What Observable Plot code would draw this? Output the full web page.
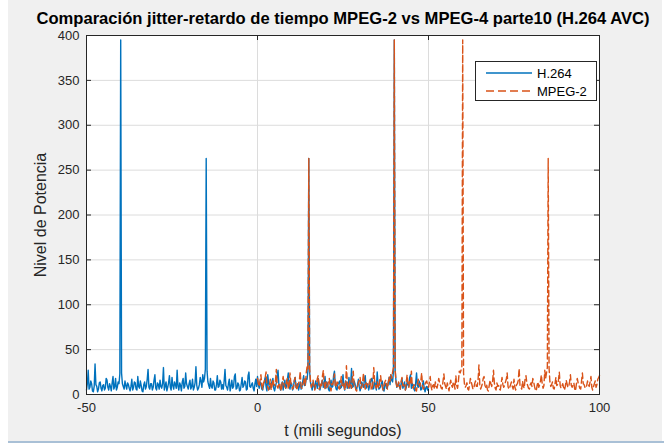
<!DOCTYPE html>
<html>
<head>
<meta charset="utf-8">
<script src="https://cdn.jsdelivr.net/npm/d3@7"></script>
<script src="https://cdn.jsdelivr.net/npm/@observablehq/plot@0.6"></script>
<style>
  html, body { margin: 0; padding: 0; background: #ffffff; }
  #wrap { position: relative; width: 664px; height: 445px; overflow: hidden; background: #ffffff; font-family: "Liberation Sans", Arial, sans-serif; }
  #fig { position: absolute; left: 8px; top: 0; width: 654px; height: 441px; background: #f0f0f0; }
  #edge { position: absolute; left: 8px; top: 441px; width: 656px; height: 2px; background: #a9c0d6; }
  #chart { position: absolute; left: 0; top: 0; }
  #legend { position: absolute; left: 475px; top: 61px; width: 120px; height: 38px; background: #fff; border: 1px solid #262626; font-size: 13px; color: #000; }
  #legend .row { position: absolute; left: 0; height: 16px; display: flex; align-items: center; }
  #legend svg { display: block; }
  #legend span { margin-left: 5px; }
</style>
</head>
<body>
<div id="wrap">
  <div id="fig"></div>
  <div id="edge"></div>
  <div id="chart"></div>
  <div id="legend"></div>
</div>
<script>
// ---- data ----
const titleText = "Comparación jitter-retardo de tiempo MPEG-2 vs MPEG-4 parte10 (H.264 AVC)";
const xLabel = "t (mili segundos)";
const yLabel = "Nivel de Potencia";
const seriesNames = ["H.264", "MPEG-2"];
const xTicks = [-50, 0, 50, 100];
const yTicks = [0, 50, 100, 150, 200, 250, 300, 350, 400];

// H.264: t from -50 to 50, step 0.25 ms
const h264Start = -50;
const h264Step = 0.25;
const h264Values = [
  5, 12, 27, 6, 8, 15, 12, 4, 3, 9, 34, 11, 9, 3, 6, 13, 14, 7, 4, 10,
  11, 5, 7, 18, 16, 8, 5, 12, 9, 4, 13, 20, 6, 9, 18, 5, 8, 14, 12, 23,
  395,
  24, 12, 9, 6, 15, 10, 6, 13, 11, 7, 4, 9, 17, 5, 8, 14, 13, 6, 5,
  20, 9, 7, 15, 10, 4, 3, 11, 14, 6, 9, 17, 28, 8, 6, 12, 12, 5, 8, 16,
  22, 7, 5, 13, 11, 6, 16, 9, 7, 12, 30, 5, 9, 14, 4, 8, 13, 21, 8, 5,
  19, 10, 6, 14, 11, 7, 27, 9, 5, 13, 10, 4, 14, 18, 7, 9, 24, 12, 9, 6,
  12, 16, 6, 9, 17, 5, 8, 13, 31, 10, 5, 7, 11, 19, 15, 8, 22, 14, 18, 28,
  263,
  26, 14, 10, 7, 18, 9, 7, 15, 13, 5, 5, 11, 21, 8, 9, 16, 14, 6, 11,
  6, 15, 28, 10, 8, 5, 12, 17, 4, 9, 16, 7, 9, 20, 23, 6, 7, 13, 11, 4,
  5, 12, 19, 8, 10, 15, 14, 5, 6, 21, 25, 9, 8, 11, 13, 7, 4, 12, 17, 9,
  20, 11, 7, 14, 12, 6, 5, 10, 15, 19, 9, 4, 22, 13, 6, 8, 11, 15, 18, 7,
  4, 9, 13, 20, 27, 11, 8, 5, 10, 14, 5, 12, 16, 7, 9, 17, 24, 10, 6, 13,
  12, 5, 7, 16, 19, 8, 10, 12, 5, 9, 14, 6, 8, 15, 21, 10, 11, 18, 17, 27,
  263,
  25, 13, 9, 5, 14, 10, 6, 15, 11, 7, 18, 12, 5, 9, 13, 16, 8, 12, 20,
  7, 14, 12, 6, 4, 10, 16, 8, 9, 21, 26, 11, 6, 5, 11, 13, 15, 7, 8, 12,
  22, 9, 5, 15, 13, 7, 10, 19, 7, 12, 29, 8, 9, 15, 12, 6, 6, 11, 17, 9,
  4, 8, 14, 10, 8, 16, 21, 7, 10, 12, 5, 9, 13, 17, 18, 6, 7, 14, 11, 5,
  25, 12, 6, 7, 9, 13, 15, 5, 4, 11, 12, 7, 8, 14, 19, 11, 22, 16, 14, 26,
  395,
  27, 15, 8, 10, 13, 9, 6, 12, 18, 7, 10, 14, 5, 8, 14, 11, 9, 19, 22,
  7, 12, 11, 6, 4, 13, 24, 10, 8, 15, 12, 5, 6, 11, 15, 7, 3, 8, 9, 5,
  9
];

// MPEG-2: t from 0 to 100, step 0.25 ms
const mpeg2Start = 0;
const mpeg2Step = 0.25;
const mpeg2Values = [
  18, 12, 9, 16, 22, 10, 6, 13, 14, 19, 25, 11, 8, 5, 11, 17, 5, 9, 17, 12,
  10, 15, 28, 9, 7, 12, 13, 6, 4, 14, 20, 11, 9, 7, 15, 18, 6, 10, 24, 13,
  11, 6, 8, 14, 19, 10, 5, 9, 12, 16, 26, 8, 7, 11, 14, 19, 10, 24, 31, 28,
  263,
  29, 14, 8, 12, 16, 9, 5, 10, 12, 18, 21, 6, 7, 13, 10, 21, 27, 11, 6,
  14, 8, 9, 15, 18, 7, 4, 12, 11, 16, 23, 9, 8, 14, 13, 7, 6, 12, 20, 10,
  10, 13, 5, 8, 32, 14, 9, 6, 15, 11, 7, 19, 26, 10, 11, 5, 4, 9, 13, 16,
  19, 7, 8, 15, 24, 10, 6, 13, 12, 8, 9, 14, 17, 6, 5, 12, 30, 15, 10, 7,
  14, 9, 7, 16, 21, 12, 8, 5, 11, 14, 16, 10, 6, 13, 20, 15, 22, 18, 25, 30,
  395,
  28, 13, 9, 7, 14, 11, 6, 15, 19, 10, 11, 8, 5, 14, 22, 12, 8, 16, 13,
  26, 9, 7, 11, 10, 5, 4, 12, 17, 11, 9, 15, 24, 10, 6, 8, 12, 14, 15, 9,
  8, 13, 20, 9, 5, 10, 11, 6, 14, 9, 7, 12, 18, 13, 10, 7, 6, 15, 23, 12,
  9, 6, 13, 8, 4, 11, 16, 10, 8, 14, 12, 6, 21, 10, 7, 15, 26, 24, 27, 29,
  395,
  24, 12, 8, 10, 13, 6, 5, 11, 18, 14, 10, 6, 7, 12, 15, 9, 9, 17, 33,
  11, 6, 9, 12, 18, 20, 10, 8, 11, 5, 4, 10, 16, 12, 9, 15, 27, 13, 7, 5,
  13, 9, 10, 6, 5, 12, 19, 11, 8, 10, 14, 17, 24, 9, 6, 8, 11, 14, 9, 6,
  17, 8, 5, 11, 12, 16, 29, 10, 8, 6, 15, 9, 7, 18, 21, 13, 10, 7, 6, 11,
  13, 9, 18, 14, 9, 5, 4, 10, 14, 8, 11, 15, 22, 12, 7, 10, 27, 18, 24, 30,
  263,
  30, 14, 9, 11, 14, 7, 6, 12, 19, 10, 11, 16, 25, 10, 7, 9, 12, 8, 5,
  9, 16, 12, 8, 9, 14, 22, 10, 8, 11, 13, 6, 4, 12, 18, 13, 10, 7, 6, 15,
  24, 12, 11, 8, 7, 10, 15, 11, 9, 14, 20, 8, 5, 9, 12, 15, 8, 11, 17, 19,
  21
];

const h264 = h264Values.map((v, i) => ({t: h264Start + i * h264Step, v}));
const mpeg2 = mpeg2Values.map((v, i) => ({t: mpeg2Start + i * mpeg2Step, v}));

const blue = "#0072BD";
const orange = "#D95319";
const axisColor = "#262626";
const font = "'Liberation Sans', Arial, Helvetica, sans-serif";

const W = 664, H = 445;
const mL = 86, mR = 65, mT = 35, mB = 51;
const innerW = W - mL - mR, innerH = H - mT - mB;
const tickLen = 5;

const chart = Plot.plot({
  width: W, height: H,
  marginLeft: mL, marginRight: mR, marginTop: mT, marginBottom: mB,
  style: {background: "transparent", fontFamily: font, fontSize: "13px", color: axisColor, overflow: "visible"},
  x: {domain: [-50, 100], ticks: xTicks},
  y: {domain: [0, 400], ticks: yTicks},
  marks: [
    Plot.frame({fill: "#ffffff", stroke: null}),
    Plot.gridX(xTicks, {stroke: "#dcdcdc", strokeOpacity: 1}),
    Plot.gridY(yTicks, {stroke: "#dcdcdc", strokeOpacity: 1}),
    Plot.line(h264, {x: "t", y: "v", stroke: blue, strokeWidth: 1.4}),
    Plot.line(mpeg2, {x: "t", y: "v", stroke: orange, strokeWidth: 1.4, strokeDasharray: "6,3.5"}),
    Plot.frame({stroke: axisColor, strokeWidth: 1}),
    Plot.tickY(yTicks, {y: d => d, insetRight: innerW - tickLen, stroke: axisColor}),
    Plot.tickY(yTicks, {y: d => d, insetLeft: innerW - tickLen, stroke: axisColor}),
    Plot.tickX(xTicks, {x: d => d, insetTop: innerH - tickLen, stroke: axisColor}),
    Plot.tickX(xTicks, {x: d => d, insetBottom: innerH - tickLen, stroke: axisColor}),
    Plot.axisX(xTicks, {tickSize: 0, tickPadding: 8, tickFormat: d => String(d), label: null, fontSize: 13, fill: axisColor}),
    Plot.axisY(yTicks, {tickSize: 0, tickPadding: 7, tickFormat: d => String(d), label: null, fontSize: 13, fill: axisColor}),
    Plot.text([xLabel], {frameAnchor: "bottom", dy: 41, fontSize: 16, fill: axisColor}),
    Plot.text([yLabel], {frameAnchor: "left", textAnchor: "middle", dx: -46, rotate: -90, fontSize: 16, fill: axisColor}),
    Plot.text([titleText], {frameAnchor: "top", dy: -23, fontSize: 16.6, fontWeight: "bold", fill: "#000"})
  ]
});
document.getElementById("chart").appendChild(chart);

// legend
const legend = document.getElementById("legend");
const rows = [
  {name: seriesNames[0], color: blue, dash: null, top: 3},
  {name: seriesNames[1], color: orange, dash: "8,4", top: 21}
];
rows.forEach(r => {
  const row = document.createElement("div");
  row.className = "row";
  row.style.top = r.top + "px";
  row.style.left = "10px";
  row.innerHTML = `<svg width="46" height="16"><line x1="0" x2="46" y1="8" y2="8" stroke="${r.color}" stroke-width="1.3" ${r.dash ? `stroke-dasharray="${r.dash}"` : ""}/></svg><span>${r.name}</span>`;
  legend.appendChild(row);
});
</script>
</body>
</html>
